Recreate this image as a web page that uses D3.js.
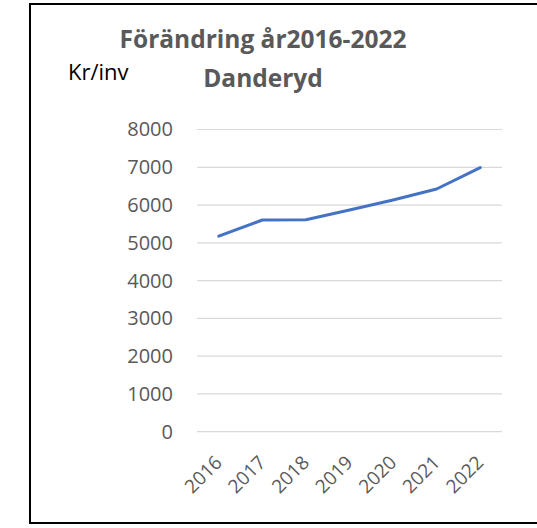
<!DOCTYPE html>
<html>
<head>
<meta charset="utf-8">
<script src="https://cdn.jsdelivr.net/npm/d3@7"></script>
<style>
  body { margin: 0; background: #fff; }
  text { font-family: "Open Sans", sans-serif; }
</style>
</head>
<body>
<div id="chart"></div>
<script>
var years = ["2016", "2017", "2018", "2019", "2020", "2021", "2022"];
var values = [5175, 5605, 5610, 5870, 6135, 6425, 6990];
var yTicks = [0, 1000, 2000, 3000, 4000, 5000, 6000, 7000, 8000];
var titleLines = ["Förändring år2016-2022", "Danderyd"];
var yLabel = "Kr/inv";

var width = 537, height = 528;

var svg = d3.select("#chart").append("svg")
    .attr("width", width)
    .attr("height", height);

// frame (no right edge in the picture)
svg.append("path")
    .attr("d", "M537,4 H30 V523 H537")
    .attr("fill", "none")
    .attr("stroke", "#000")
    .attr("stroke-width", 2);

var x = d3.scalePoint().domain(years).range([197, 502]).padding(0.5);
var y = d3.scaleLinear().domain([0, 8000]).range([431.7, 129.5]);

// gridlines
svg.append("g")
    .selectAll("line")
    .data(yTicks)
    .enter().append("line")
    .attr("x1", 197)
    .attr("x2", 502)
    .attr("y1", function(d) { return y(d); })
    .attr("y2", function(d) { return y(d); })
    .attr("stroke", "#d9d9d9")
    .attr("stroke-width", 1.2);

// y axis labels
var yAxis = svg.append("g")
    .attr("transform", "translate(197,0)")
    .call(d3.axisLeft(y).tickValues(yTicks).tickFormat(d3.format("d")).tickSize(0).tickPadding(24));
yAxis.select(".domain").remove();
yAxis.selectAll("text")
    .attr("fill", "#595959")
    .style("font-size", "20px")
    .style("font-family", "'Open Sans', sans-serif");

// x axis labels
var xAxis = svg.append("g")
    .attr("transform", "translate(0,431.7)")
    .call(d3.axisBottom(x).tickSize(0).tickPadding(0));
xAxis.select(".domain").remove();
xAxis.selectAll("text")
    .attr("fill", "#595959")
    .style("font-size", "19px")
    .style("font-family", "'Open Sans', sans-serif")
    .attr("text-anchor", "end")
    .attr("dy", null)
    .attr("y", null)
    .attr("transform", "translate(4,32) rotate(-45)");

// line
var line = d3.line()
    .x(function(d, i) { return x(years[i]); })
    .y(function(d) { return y(d); });

svg.append("path")
    .datum(values)
    .attr("d", line)
    .attr("fill", "none")
    .attr("stroke", "#4472c4")
    .attr("stroke-width", 3)
    .attr("stroke-linecap", "round")
    .attr("stroke-linejoin", "round");

// title
svg.append("g")
    .selectAll("text")
    .data(titleLines)
    .enter().append("text")
    .attr("x", 263)
    .attr("y", function(d, i) { return 47.5 + i * 39.5; })
    .attr("text-anchor", "middle")
    .attr("fill", "#595959")
    .style("font-size", "24.5px")
    .style("font-weight", "bold")
    .text(function(d) { return d; });

// y label
svg.append("text")
    .attr("x", 68)
    .attr("y", 80)
    .attr("fill", "#000")
    .style("font-size", "22px")
    .text(yLabel);
</script>
</body>
</html>
